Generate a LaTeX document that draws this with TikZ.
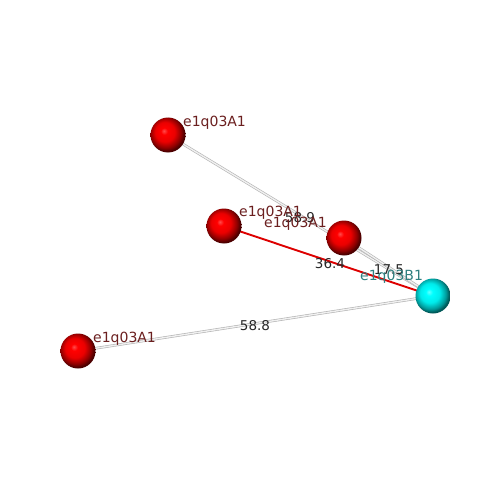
\documentclass[tikz,border=0pt]{standalone}
\usepackage{fontspec}
\setmainfont{DejaVu Sans}
\definecolor{lblred}{HTML}{6B1F1F}
\definecolor{lblteal}{HTML}{2F7F80}
\definecolor{edgered}{HTML}{DD0000}
\pgfdeclareradialshading{redsphere}{\pgfpoint{-6bp}{6bp}}{%
  color(0bp)=(red!70!white); color(5bp)=(red); color(14bp)=(red!92!black);
  color(22bp)=(red!55!black); color(26bp)=(red!30!black); color(50bp)=(red!30!black)}
\pgfdeclareradialshading{cyansphere}{\pgfpoint{-6bp}{6bp}}{%
  color(0bp)=(cyan!60!white); color(5bp)=(cyan); color(14bp)=(cyan!92!black);
  color(22bp)=(cyan!60!black); color(26bp)=(cyan!35!black); color(50bp)=(cyan!35!black)}
\begin{document}
\begin{tikzpicture}[x=1pt,y=-1pt,
  ball/.style={circle,minimum size=35pt,inner sep=0pt},
  redball/.style={ball,shading=redsphere},
  cyanball/.style={ball,shading=cyansphere},
  grayedge/.style={draw=black!30,double=black!6,double distance=1.4pt,line width=0.6pt},
  rededge/.style={draw=edgered,line width=1.9pt},
  elabel/.style={font=\fontsize{13.5}{15}\selectfont,text=black!85,inner sep=0pt},
  nlabel/.style={font=\fontsize{14}{15}\selectfont,anchor=base west,inner sep=0pt,text=lblred},
  blabel/.style={nlabel,text=lblteal}]
\useasboundingbox (0,0) rectangle (500,500);
\fill[white] (0,0) rectangle (500,500);
\coordinate (pA) at (168,135);
\coordinate (pB) at (224,226);
\coordinate (pC) at (344,238);
\coordinate (pD) at (78,351);
\coordinate (pE) at (433,296);
\draw[grayedge] (pA) -- (pE);
\draw[grayedge] (pC) -- (pE);
\draw[grayedge] (pD) -- (pE);
\draw[rededge] (pB) -- (pE);
\node[redball] (A) at (pA) {};
\node[redball] (B) at (pB) {};
\node[redball] (C) at (pC) {};
\node[redball] (D) at (pD) {};
\node[cyanball] (E) at (pE) {};
\node[elabel] (l1) at (300,218) {58.9};
\node[elabel] (l2) at (330,264) {36.4};
\node[elabel] (l3) at (389,270) {17.5};
\node[elabel] (l4) at (255,326) {58.8};
\node[nlabel] (tA) at (183,126) {e1q03A1};
\node[nlabel] (tB) at (239,216) {e1q03A1};
\node[nlabel] (tC) at (264,227) {e1q03A1};
\node[nlabel] (tD) at (93,342) {e1q03A1};
\node[blabel] (tE) at (360,280) {e1q03B1};
\end{tikzpicture}
\end{document}
